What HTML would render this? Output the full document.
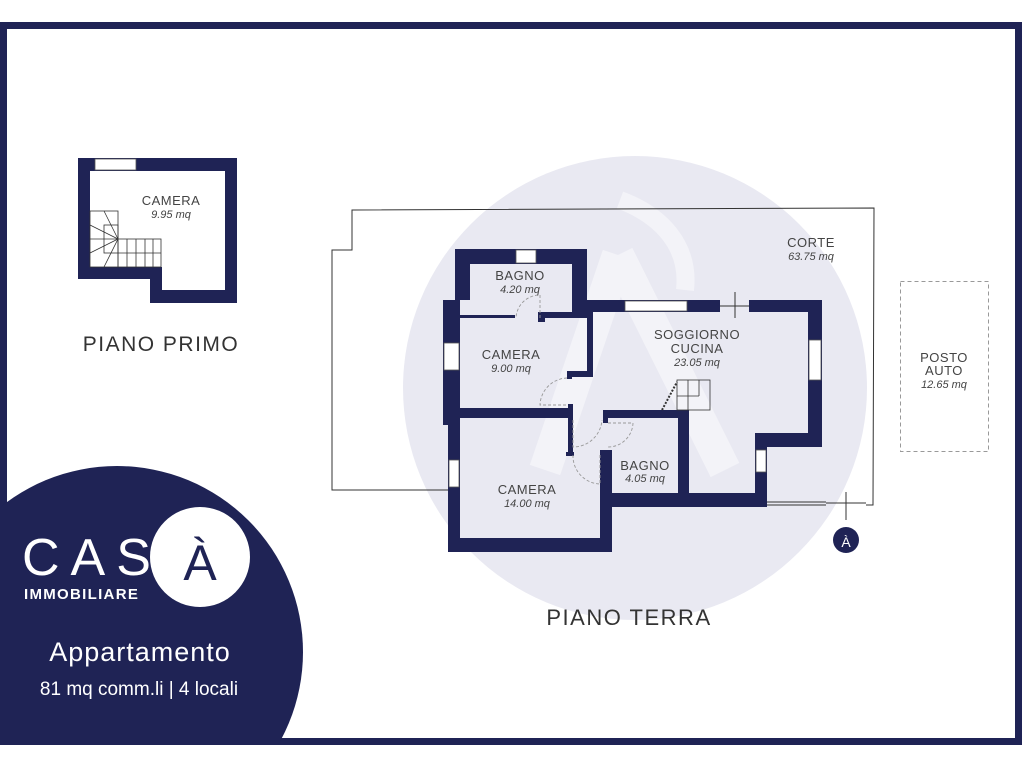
<!DOCTYPE html>
<html><head><meta charset="utf-8"><style>
html,body{margin:0;padding:0;background:#fff;width:1024px;height:768px;overflow:hidden;}
svg{display:block;overflow:hidden;}
text{font-family:"Liberation Sans",sans-serif;}
</style></head><body>
<svg width="1024" height="768" viewBox="0 0 1024 768" xmlns="http://www.w3.org/2000/svg">
<rect width="1024" height="768" fill="#fff"/>
<circle cx="635" cy="388" r="232" fill="#e9e9f2"/>
<path d="M618 255 L545 470 M618 255 L725 470" stroke="#f3f3f8" stroke-width="32" fill="none"/>
<path d="M620 200 C660 215 690 245 685 290" stroke="#f3f3f8" stroke-width="18" fill="none"/>
<rect x="3.5" y="25.5" width="1015" height="716" fill="none" stroke="#1f2355" stroke-width="7"/>

<g fill="#1f2355">
<rect x="78" y="158" width="159" height="13"/>
<rect x="78" y="158" width="12" height="121"/>
<rect x="225" y="158" width="12" height="145"/>
<rect x="78" y="267" width="84" height="12"/>
<rect x="150" y="267" width="12" height="36"/>
<rect x="150" y="290" width="87" height="13"/>
</g>
<rect x="95" y="159" width="41" height="11" fill="#fff" stroke="#555" stroke-width="0.8"/>
<g stroke="#333" stroke-width="0.8" fill="none">
<rect x="90" y="211" width="28" height="56"/>
<rect x="104" y="225" width="14" height="28"/>
<rect x="118" y="239" width="43" height="28"/>
<line x1="118" y1="253" x2="161" y2="253"/>
<line x1="127" y1="239" x2="127" y2="267"/><line x1="136" y1="239" x2="136" y2="267"/><line x1="145" y1="239" x2="145" y2="267"/><line x1="153" y1="239" x2="153" y2="267"/>
<line x1="90" y1="225" x2="118" y2="239"/><line x1="90" y1="239" x2="118" y2="239"/><line x1="90" y1="253" x2="118" y2="239"/><line x1="104" y1="211" x2="118" y2="239"/><line x1="104" y1="267" x2="118" y2="239"/>
</g>
<text x="171" y="205" font-size="13" fill="#444" text-anchor="middle" letter-spacing="0.5">CAMERA</text>
<text x="171" y="218" font-size="11" fill="#444" text-anchor="middle" font-style="italic">9.95 mq</text>
<text x="161" y="351" font-size="21" fill="#333" text-anchor="middle" letter-spacing="1.5">PIANO PRIMO</text>

<polyline points="448,490 332,490 332,250 352,250 352,210 874,208 873,505 866,505" fill="none" stroke="#333" stroke-width="1"/>
<rect x="900.5" y="281.5" width="88" height="170" fill="none" stroke="#999" stroke-width="1" stroke-dasharray="4,3"/>

<g fill="#1f2355">
<rect x="455" y="249" width="132" height="15"/>
<rect x="455" y="249" width="15" height="51"/>
<rect x="572" y="249" width="15" height="63"/>
<rect x="443" y="300" width="17" height="125"/>
<rect x="448" y="420" width="12" height="132"/>
<rect x="448" y="538" width="164" height="14"/>
<rect x="600" y="450" width="12" height="102"/>
<rect x="600" y="493" width="167" height="14"/>
<rect x="678" y="410" width="11" height="97"/>
<rect x="603" y="410" width="86" height="8"/>
<rect x="603" y="410" width="5" height="13"/>
<rect x="443" y="408" width="130" height="10"/>
<rect x="568" y="404" width="5" height="51"/>
<rect x="566" y="452" width="8" height="4"/>
<rect x="587" y="300" width="6" height="77"/>
<rect x="567" y="371" width="26" height="6"/>
<rect x="567" y="371" width="5" height="8"/>
<rect x="460" y="315" width="55" height="3"/>
<rect x="540" y="312" width="50" height="6"/>
<rect x="538" y="312" width="7" height="10"/>
<rect x="587" y="300" width="133" height="12"/>
<rect x="749" y="300" width="73" height="12"/>
<rect x="808" y="300" width="14" height="147"/>
<rect x="755" y="433" width="67" height="14"/>
<rect x="755" y="433" width="12" height="74"/>
</g>
<g fill="#fff" stroke="#555" stroke-width="0.8">
<rect x="516" y="250" width="20" height="13"/>
<rect x="444" y="343" width="15" height="27"/>
<rect x="449" y="460" width="10" height="27"/>
<rect x="625" y="301" width="62" height="10"/>
<rect x="809" y="340" width="12" height="40"/>
<rect x="756" y="450" width="10" height="22"/>
</g>
<g fill="none" stroke="#999" stroke-width="0.9" stroke-dasharray="3,2">
<path d="M540 318 L540 295 A24 24 0 0 0 516 318"/>
<path d="M567 378 A28 28 0 0 0 540 405 L567 405"/>
<path d="M573 420 L573 447 A29 29 0 0 0 602 420"/>
<path d="M573 455 A28 28 0 0 0 600 484 L600 455"/>
<path d="M608 423 L633 423 A25 25 0 0 1 608 447"/>
</g>
<g stroke="#333" stroke-width="0.8" fill="none">
<rect x="677" y="380" width="33" height="30"/>
<line x1="688" y1="380" x2="688" y2="410"/><line x1="699" y1="380" x2="699" y2="396"/><line x1="677" y1="396" x2="699" y2="396"/>
<line x1="662" y1="410" x2="677" y2="382" stroke-dasharray="2,1.5" stroke-width="2"/>
</g>
<g stroke="#333" stroke-width="1">
<line x1="735" y1="292" x2="735" y2="318"/><line x1="720" y1="306" x2="749" y2="306"/>
<line x1="767" y1="502" x2="826" y2="502"/><line x1="767" y1="505" x2="826" y2="505"/>
<line x1="826" y1="503" x2="866" y2="503"/><line x1="846" y1="492" x2="846" y2="520"/>
</g>
<circle cx="846" cy="540" r="13" fill="#1f2355"/>
<text x="846" y="547" font-size="14" fill="#fff" text-anchor="middle">À</text>

<g fill="#444" text-anchor="middle" letter-spacing="0.5">
<text x="520" y="280" font-size="13">BAGNO</text>
<text x="520" y="293" font-size="11" font-style="italic" letter-spacing="0">4.20 mq</text>
<text x="511" y="359" font-size="13">CAMERA</text>
<text x="511" y="372" font-size="11" font-style="italic" letter-spacing="0">9.00 mq</text>
<text x="697" y="339" font-size="13">SOGGIORNO</text>
<text x="697" y="353" font-size="13">CUCINA</text>
<text x="697" y="366" font-size="11" font-style="italic" letter-spacing="0">23.05 mq</text>
<text x="645" y="470" font-size="13">BAGNO</text>
<text x="645" y="482" font-size="11" font-style="italic" letter-spacing="0">4.05 mq</text>
<text x="527" y="494" font-size="13">CAMERA</text>
<text x="527" y="507" font-size="11" font-style="italic" letter-spacing="0">14.00 mq</text>
<text x="811" y="247" font-size="13">CORTE</text>
<text x="811" y="260" font-size="11" font-style="italic" letter-spacing="0">63.75 mq</text>
<text x="944" y="362" font-size="13">POSTO</text>
<text x="944" y="375" font-size="13">AUTO</text>
<text x="944" y="388" font-size="11" font-style="italic" letter-spacing="0">12.65 mq</text>
</g>
<text x="629" y="625" font-size="22" fill="#333" text-anchor="middle" letter-spacing="1.5">PIANO TERRA</text>

<clipPath id="cl"><rect x="0" y="0" width="1024" height="745"/></clipPath>
<circle cx="117" cy="652" r="186" fill="#1f2355" clip-path="url(#cl)"/>
<text x="22" y="575" font-size="52" fill="#fff" letter-spacing="11">CAS</text>
<circle cx="200" cy="557" r="50" fill="#fff"/>
<text x="200" y="580" font-size="50" fill="#1f2355" text-anchor="middle">À</text>
<text x="24" y="599" font-size="15" font-weight="bold" fill="#fff" letter-spacing="1.3">IMMOBILIARE</text>
<text x="140" y="661" font-size="27" fill="#fff" text-anchor="middle" letter-spacing="1">Appartamento</text>
<text x="139" y="695" font-size="19" fill="#fff" text-anchor="middle">81 mq comm.li | 4 locali</text>
</svg>
</body></html>
